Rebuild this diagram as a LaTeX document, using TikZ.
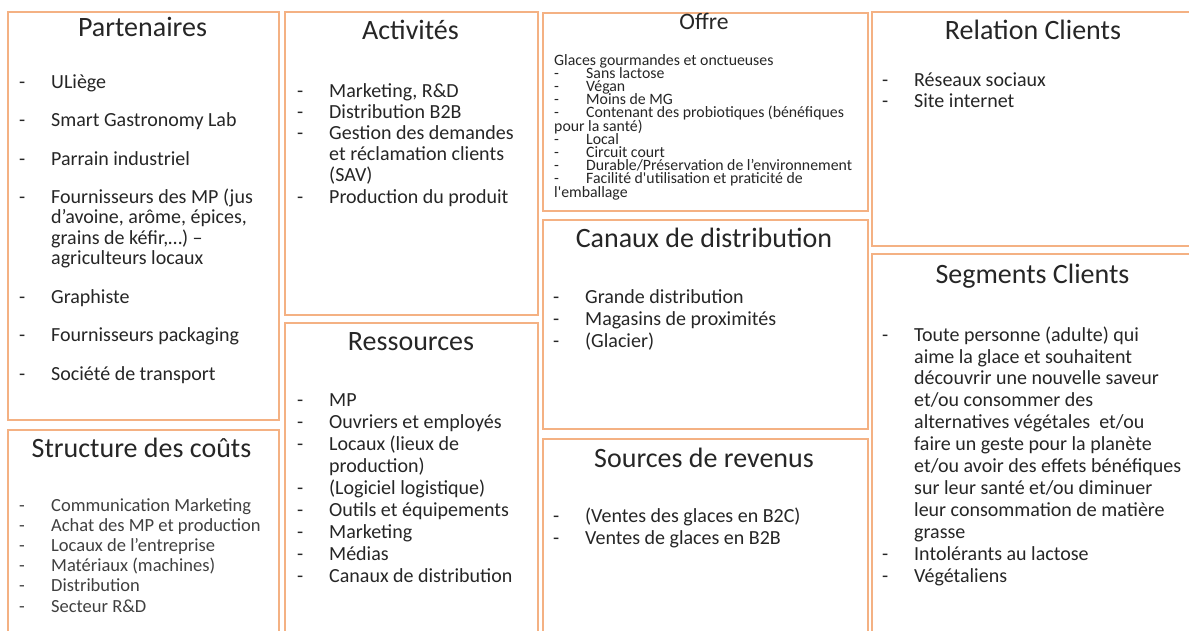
\documentclass[tikz,border=0pt]{standalone}
\usepackage{fontspec}
\setmainfont{Carlito}
\usepackage{xcolor}
\definecolor{cellorange}{HTML}{F4B183}
\definecolor{inkgray}{HTML}{262626}
\lineskiplimit=-\maxdimen
\newcommand{\itm}{\makebox[32pt][l]{-}}
\newcommand{\cnt}{\hspace*{32pt}}

\begin{document}
\begin{tikzpicture}[x=1pt,y=-1pt]
        \tikzstyle{cell} = [draw=cellorange, line width=2pt, rectangle, inner sep=0pt, anchor=north west];
        \tikzstyle{ttl} = [anchor=base, inner sep=0pt, text=inkgray, font=\fontsize{28}{30}\selectfont];
        \tikzstyle{lst} = [anchor=base west, inner sep=0pt, align=left, text=inkgray, font=\fontsize{20}{22}\selectfont];
        \useasboundingbox (0,0) rectangle (1189,630);
        \clip (0,0) rectangle (1189,630);
        \fill[white] (0,0) rectangle (1189,630);
        % cells
        \node[cell, minimum width=271pt, minimum height=408pt] (part) at (7,11) {};
        \node[cell, minimum width=271pt, minimum height=230pt] (cout) at (7,429) {};
        \node[cell, minimum width=253pt, minimum height=303pt] (act) at (284,11) {};
        \node[cell, minimum width=253pt, minimum height=330pt] (res) at (284,322) {};
        \node[cell, minimum width=325pt, minimum height=198pt] (offre) at (542,12) {};
        \node[cell, minimum width=325pt, minimum height=209pt] (canaux) at (542,219) {};
        \node[cell, minimum width=325pt, minimum height=220pt] (rev) at (542,438) {};
        \node[cell, minimum width=324pt, minimum height=234pt] (rel) at (871,11) {};
        \node[cell, minimum width=324pt, minimum height=400pt] (seg) at (871,253) {};
        % titles
        \node[ttl] (partT) at (142.5,36) {Partenaires};
        \node[ttl] (coutT) at (141.5,457) {Structure des coûts};
        \node[ttl] (actT) at (410.5,39) {Activités};
        \node[ttl] (resT) at (411,350) {Ressources};
        \node[ttl, font=\fontsize{23.6}{26}\selectfont] (offreT) at (704,29) {Offre};
        \node[ttl] (canauxT) at (704,247) {Canaux de distribution};
        \node[ttl] (revT) at (704,467) {Sources de revenus};
        \node[ttl] (relT) at (1033,39) {Relation Clients};
        \node[ttl] (segT) at (1032.5,283) {Segments Clients};
        % lists (placed by the baseline of their last line)
        \node[lst, font=\fontsize{20}{20.3}\selectfont] (partL) at (19,380)
        {\itm ULiège\\[18.2pt]
         \itm Smart Gastronomy Lab\\[18.2pt]
         \itm Parrain industriel\\[18.2pt]
         \itm Fournisseurs des MP (jus\\
         \cnt d’avoine, arôme, épices,\\
         \cnt grains de kéfir,…) –\\
         \cnt agriculteurs locaux\\[18.2pt]
         \itm Graphiste\\[18.2pt]
         \itm Fournisseurs packaging\\[18.2pt]
         \itm Société de transport};
        \node[lst, text=black!75, font=\fontsize{18.5}{20.2}\selectfont] (coutL) at (19,612)
        {\itm Communication Marketing\\
         \itm Achat des MP et production\\
         \itm Locaux de l’entreprise\\
         \itm Matériaux (machines)\\
         \itm Distribution\\
         \itm Secteur R\&D};
        \node[lst, font=\fontsize{20}{21.2}\selectfont] (actL) at (297,203)
        {\itm Marketing, R\&D\\
         \itm Distribution B2B\\
         \itm Gestion des demandes\\
         \cnt et réclamation clients\\
         \cnt (SAV)\\
         \itm Production du produit};
        \node[lst, font=\fontsize{20}{21.9}\selectfont] (resL) at (297,582)
        {\itm MP\\
         \itm Ouvriers et employés\\
         \itm Locaux (lieux de\\
         \cnt production)\\
         \itm (Logiciel logistique)\\
         \itm Outils et équipements\\
         \itm Marketing\\
         \itm Médias\\
         \itm Canaux de distribution};
        \node[lst, font=\fontsize{15.8}{13.2}\selectfont] (offreL) at (554,197)
        {Glaces gourmandes et onctueuses\\
         \itm Sans lactose\\
         \itm Végan\\
         \itm Moins de MG\\
         \itm Contenant des probiotiques (bénéfiques\\
         pour la santé)\\
         \itm Local\\
         \itm Circuit court\\
         \itm Durable/Préservation de l’environnement\\
         \itm Facilité d\textquotesingle utilisation et praticité de\\
         l\textquotesingle emballage};
        \node[lst] (canauxL) at (553,347)
        {\itm Grande distribution\\
         \itm Magasins de proximités\\
         \itm (Glacier)};
        \node[lst, font=\fontsize{20}{21.5}\selectfont] (revL) at (553,544)
        {\itm (Ventes des glaces en B2C)\\
         \itm Ventes de glaces en B2B};
        \node[lst, font=\fontsize{20}{21}\selectfont] (relL) at (882,107)
        {\itm Réseaux sociaux\\
         \itm Site internet};
        \node[lst, font=\fontsize{20}{21.9}\selectfont] (segL) at (882,582)
        {\itm Toute personne (adulte) qui\\
         \cnt aime la glace et souhaitent\\
         \cnt découvrir une nouvelle saveur\\
         \cnt et/ou consommer des\\
         \cnt alternatives végétales \ et/ou\\
         \cnt faire un geste pour la planète\\
         \cnt et/ou avoir des effets bénéfiques\\
         \cnt sur leur santé et/ou diminuer\\
         \cnt leur consommation de matière\\
         \cnt grasse\\
         \itm Intolérants au lactose\\
         \itm Végétaliens};
\end{tikzpicture}
\end{document}
